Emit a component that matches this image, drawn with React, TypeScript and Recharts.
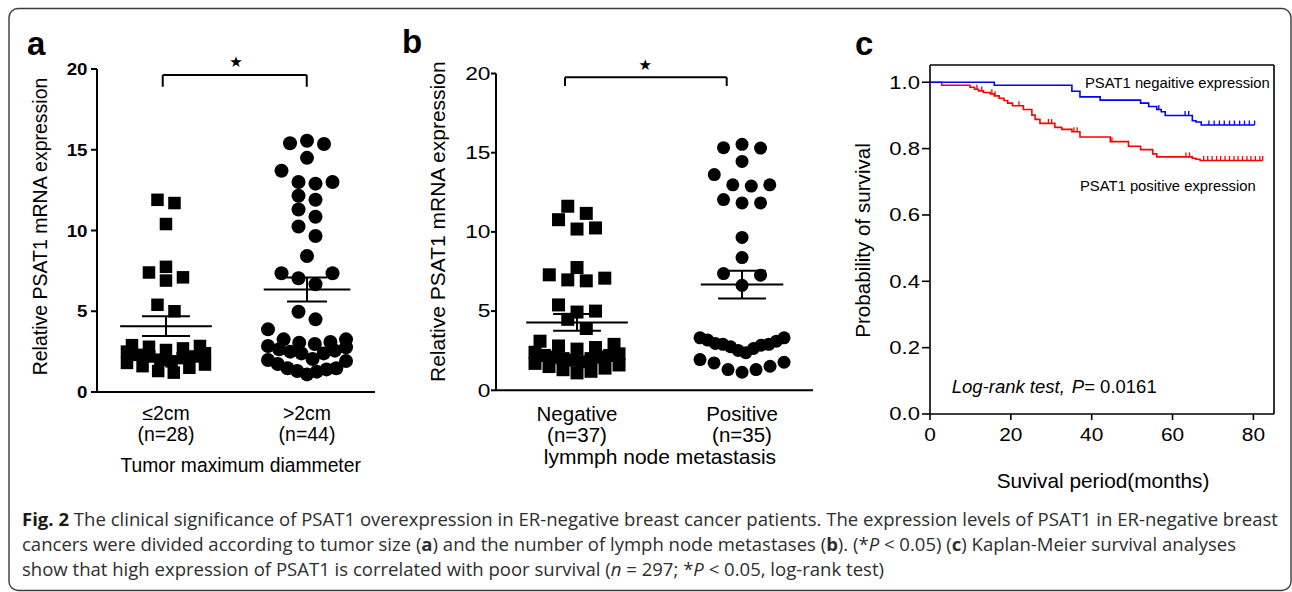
import React from 'react';
import { ScatterChart, Scatter, LineChart, Line, XAxis, YAxis, ReferenceLine } from 'recharts';

const FONT = '"Liberation Sans", Arial, Helvetica, sans-serif';
const CAPTION_FONT = '"Open Sans", "Noto Sans", sans-serif';

// panel a - expression by tumour size
const sizeGroups = ['≤2cm', '>2cm'];
const sizeCounts = ['(n=28)', '(n=44)'];
const sizeSmall = [11.9, 11.7, 10.4, 7.75, 7.4, 7.1, 6.9, 5.4, 5.0, 2.9, 2.85, 2.8, 2.7, 2.6, 2.5, 2.4, 2.3, 2.2, 2.2, 2.1, 2.0, 1.9, 1.8, 1.7, 1.6, 1.5, 1.3, 1.2];
const sizeLarge = [15.56, 15.4, 15.36, 14.5, 13.7, 13.0, 13.0, 12.9, 12.15, 11.9, 11.3, 10.85, 10.25, 9.66, 8.42, 7.35, 7.35, 7.04, 6.67, 4.97, 4.5, 3.88, 3.26, 3.26, 3.1, 3.05, 2.97, 2.85, 2.77, 2.64, 2.56, 2.5, 2.39, 2.39, 2.04, 1.98, 1.92, 1.73, 1.47, 1.47, 1.4, 1.3, 1.26, 1.09];

// panel b - expression by lymph node status
const nodeGroups = ['Negative', 'Positive'];
const nodeCounts = ['(n=37)', '(n=35)'];
const nodeNeg = [11.62, 11.17, 10.77, 10.25, 10.18, 7.75, 7.29, 7.08, 6.97, 6.91, 5.39, 5.0, 4.94, 4.48, 3.9, 3.1, 2.9, 2.8, 2.7, 2.6, 2.4, 2.3, 2.2, 2.2, 2.1, 2.1, 2.0, 2.0, 1.9, 1.8, 1.7, 1.6, 1.5, 1.4, 1.3, 1.2, 1.1];
const nodePos = [15.53, 15.32, 15.29, 14.45, 13.62, 12.97, 12.97, 12.89, 12.04, 11.83, 11.83, 9.65, 8.38, 7.37, 7.27, 6.63, 3.31, 3.31, 3.17, 3.1, 2.96, 2.9, 2.9, 2.85, 2.75, 2.64, 2.52, 2.37, 1.94, 1.77, 1.73, 1.52, 1.31, 1.31, 1.14];

const exprTicks = [0, 5, 10, 15, 20];

// panel c - Kaplan-Meier
const negEventTimes = [0, 15.9, 35.1, 37.1, 42.1, 52.1, 54.1, 56.1, 57.2, 58.2, 64.9, 65.8, 67.1];
const negEventSurv = [1.0, 0.991, 0.973, 0.956, 0.946, 0.937, 0.927, 0.918, 0.911, 0.9, 0.884, 0.88, 0.871];
const negCensorTimes = [56.6, 63.1, 64.0, 69.0, 70.3, 71.6, 72.8, 74.1, 75.3, 76.6, 77.8, 79.0, 80.3];

const posEventTimes = [0, 2.9, 9.9, 11.0, 12.0, 13.2, 14.9, 15.9, 17.1, 18.3, 19.2, 20.4, 23.1, 25.2, 26.0, 27.2, 30.9, 32.6, 35.1, 37.1, 44.6, 49.1, 52.1, 55.1, 56.1, 64.9, 65.8, 66.8];
const posEventSurv = [1.0, 0.991, 0.985, 0.979, 0.974, 0.969, 0.965, 0.959, 0.952, 0.945, 0.937, 0.929, 0.918, 0.901, 0.888, 0.876, 0.864, 0.858, 0.851, 0.835, 0.821, 0.807, 0.797, 0.784, 0.775, 0.771, 0.768, 0.764];
const posCensorTimes = [11.6, 12.8, 15.3, 16.1, 22.0, 29.3, 30.1, 35.6, 36.4, 45.0, 63.3, 64.2, 67.7, 68.7, 69.8, 70.9, 71.9, 73.0, 74.1, 75.2, 76.2, 77.3, 78.4, 79.4, 80.5, 81.6, 82.3];

const survTicks = [0, 0.2, 0.4, 0.6, 0.8, 1.0];
const monthTicks = [0, 20, 40, 60, 80];

function stats(vals: number[]) {
  const n = vals.length;
  const mean = vals.reduce((a, b) => a + b, 0) / n;
  const sd = Math.sqrt(vals.reduce((a, b) => a + (b - mean) * (b - mean), 0) / (n - 1));
  return { mean, sem: sd / Math.sqrt(n) };
}

// Prism-like column scatter: group points into rows of similar value, spread each row
// around the column centre (lowest value in the middle), squeezing wide rows
function spread(vals: number[], pxPerUnit: number, rowH: number, full: number, maxSpan: number) {
  const idx = vals.map((_, i) => i).sort((a, b) => vals[a] - vals[b]);
  const out = new Array(vals.length).fill(0);
  let k = 0;
  while (k < idx.length) {
    const start = vals[idx[k]] * pxPerUnit;
    const row: number[] = [];
    while (k < idx.length && vals[idx[k]] * pxPerUnit < start + rowH) row.push(idx[k++]);
    const n = row.length;
    const sp = n > 1 ? Math.min(full, maxSpan / (n - 1)) : 0;
    const slots = row.map((_, j) => (j - (n - 1) / 2) * sp);
    slots.sort((a, b) => Math.abs(a) - Math.abs(b) || b - a);
    row.forEach((id, j) => {
      out[id] = slots[j];
    });
  }
  return out;
}

function survAt(times: number[], surv: number[], t: number) {
  let s = surv[0];
  times.forEach((tt, i) => {
    if (tt <= t) s = surv[i];
  });
  return s;
}

function kmPoints(times: number[], surv: number[], censors: number[]) {
  const pts = times.map((t, i) => ({ t, s: surv[i], censored: false }));
  censors.forEach((t) => pts.push({ t, s: survAt(times, surv, t), censored: true }));
  return pts.sort((a, b) => a.t - b.t);
}

const stretchTick = (size: number, sx: number, bold: boolean, dy: string, fmt: (v: number) => string) => (p: any) => (
  <text
    transform={`translate(${p.x},${p.y}) scale(${sx},1)`}
    dy={dy}
    textAnchor={p.textAnchor}
    fontSize={size}
    fontWeight={bold ? 'bold' : 'normal'}
    fontFamily={FONT}
    fill="#000"
  >
    {fmt(p.payload.value)}
  </text>
);

const catTick = (groups: string[], counts: string[], size: number, dy1: number, dy2: number) => (p: any) => {
  const i = Math.round(p.payload.value);
  return (
    <g>
      <text x={p.x} y={p.y + dy1} textAnchor="middle" fontSize={size} fontFamily={FONT} fill="#000">{groups[i]}</text>
      <text x={p.x} y={p.y + dy2} textAnchor="middle" fontSize={size} fontFamily={FONT} fill="#000">{counts[i]}</text>
    </g>
  );
};

type DotPanelProps = {
  left: number; width: number; height: number;
  plotTop: number; plotBottom: number; plotLeft: number; plotRight: number;
  xDomain: [number, number];
  groups: string[]; counts: string[];
  series: number[][];
  square: number; radius: number;
  rowH: number[]; full: number; maxSpan: number;
  meanHalf: number[]; capHalf: number[];
  bracket: { x1: number; x2: number; y: number; y2: number };
  tickSize: number; tickSx: number; tickBold: boolean; tickLen: number; tickMargin: number;
  catSize: number; catDy1: number; catDy2: number;
};

function DotPanel(props: DotPanelProps) {
  const { left, width, height, plotTop, plotBottom, plotLeft, plotRight, xDomain } = props;
  const pxPerUnit = (plotBottom - plotTop) / 20;
  const pxPerCat = (plotRight - plotLeft) / (xDomain[1] - xDomain[0]);
  const pts = props.series.map((vals, g) =>
    spread(vals, pxPerUnit, props.rowH[g], props.full, props.maxSpan).map((off, i) => ({ x: g + off / pxPerCat, y: vals[i] }))
  );
  const s = props.square;
  const r = props.radius;
  const line = { stroke: '#000', strokeWidth: 2, ifOverflow: 'visible' as const };
  const bars: React.ReactElement[] = [];
  props.series.forEach((vals, g) => {
    const { mean, sem } = stats(vals);
    const h = props.meanHalf[g];
    const c = props.capHalf[g];
    bars.push(<ReferenceLine key={`m${g}`} segment={[{ x: g - h, y: mean }, { x: g + h, y: mean }]} {...line} />);
    bars.push(<ReferenceLine key={`v${g}`} segment={[{ x: g, y: mean - sem }, { x: g, y: mean + sem }]} {...line} />);
    bars.push(<ReferenceLine key={`t${g}`} segment={[{ x: g - c, y: mean + sem }, { x: g + c, y: mean + sem }]} {...line} />);
    bars.push(<ReferenceLine key={`b${g}`} segment={[{ x: g - c, y: mean - sem }, { x: g + c, y: mean - sem }]} {...line} />);
  });
  const b = props.bracket;
  return (
    <div style={{ position: 'absolute', left, top: 0 }}>
      <ScatterChart width={width} height={height} margin={{ top: plotTop, right: left + width - plotRight, bottom: 0, left: 0 }}>
        <XAxis
          type="number"
          dataKey="x"
          domain={xDomain}
          ticks={[0, 1]}
          interval={0}
          height={height - plotBottom}
          axisLine={{ stroke: '#000', strokeWidth: 2 }}
          tickLine={false}
          tickSize={0}
          tickMargin={0}
          tick={catTick(props.groups, props.counts, props.catSize, props.catDy1, props.catDy2)}
        />
        <YAxis
          type="number"
          dataKey="y"
          domain={[0, 20]}
          ticks={exprTicks}
          interval={0}
          width={plotLeft - left}
          axisLine={{ stroke: '#000', strokeWidth: 2 }}
          tickLine={{ stroke: '#000', strokeWidth: 2 }}
          tickSize={props.tickLen}
          tickMargin={props.tickMargin}
          tick={stretchTick(props.tickSize, props.tickSx, props.tickBold, '0.36em', (v) => String(v))}
        />
        <Scatter
          data={pts[0]}
          isAnimationActive={false}
          shape={(p: any) => <rect x={p.cx - s / 2} y={p.cy - s / 2} width={s} height={s} fill="#000" />}
        />
        <Scatter
          data={pts[1]}
          isAnimationActive={false}
          shape={(p: any) => <circle cx={p.cx} cy={p.cy} r={r} fill="#000" />}
        />
        {bars}
        <ReferenceLine segment={[{ x: b.x1, y: b.y }, { x: b.x2, y: b.y }]} {...line} />
        <ReferenceLine segment={[{ x: b.x1, y: b.y }, { x: b.x1, y: b.y2 }]} {...line} />
        <ReferenceLine segment={[{ x: b.x2, y: b.y }, { x: b.x2, y: b.y2 }]} {...line} />
      </ScatterChart>
    </div>
  );
}

const negKM = kmPoints(negEventTimes, negEventSurv, negCensorTimes);
const posKM = kmPoints(posEventTimes, posEventSurv, posCensorTimes);

const censorDot = (color: string) => (p: any) =>
  p.payload.censored ? (
    <path key={`c${p.index}`} d={`M${p.cx},${p.cy}V${p.cy - 4.5}`} stroke={color} strokeWidth={1.3} />
  ) : (
    <g key={`c${p.index}`} />
  );

function SurvivalPanel() {
  const yMax = 1.052;
  const xMax = 85.1;
  return (
    <div style={{ position: 'absolute', left: 840, top: 0 }}>
      <LineChart width={452} height={500} margin={{ top: 65, right: 18, bottom: 0, left: 0 }}>
        <XAxis
          type="number"
          dataKey="t"
          domain={[0, xMax]}
          ticks={monthTicks}
          interval={0}
          height={86}
          axisLine={{ stroke: '#000', strokeWidth: 1.6 }}
          tickLine={{ stroke: '#000', strokeWidth: 1.6 }}
          tickSize={6}
          tickMargin={8}
          tick={stretchTick(18.5, 1.13, false, '0.71em', (v) => String(v))}
        />
        <YAxis
          type="number"
          dataKey="s"
          domain={[0, yMax]}
          ticks={survTicks}
          interval={0}
          width={90}
          axisLine={{ stroke: '#000', strokeWidth: 1.6 }}
          tickLine={{ stroke: '#000', strokeWidth: 1.6 }}
          tickSize={8}
          tickMargin={2}
          tick={stretchTick(17.5, 1.26, false, '0.36em', (v) => v.toFixed(1))}
        />
        <ReferenceLine y={yMax} stroke="#000" strokeWidth={1.6} ifOverflow="visible" />
        <ReferenceLine x={xMax} stroke="#000" strokeWidth={1.6} ifOverflow="visible" />
        <Line
          data={posKM}
          dataKey="s"
          type="stepAfter"
          stroke="#ff0000"
          strokeWidth={1.6}
          dot={censorDot('#ff0000')}
          activeDot={false}
          isAnimationActive={false}
        />
        <Line
          data={negKM}
          dataKey="s"
          type="stepAfter"
          stroke="#0000ff"
          strokeWidth={1.6}
          dot={censorDot('#0000ff')}
          activeDot={false}
          isAnimationActive={false}
        />
      </LineChart>
    </div>
  );
}

function Overlay() {
  const t = { fontFamily: FONT, fill: '#000' };
  const cap = { fontFamily: CAPTION_FONT, fill: '#2e2e2e', fontSize: 18 };
  return (
    <svg width={1292} height={592} style={{ position: 'absolute', left: 0, top: 0, pointerEvents: 'none' }}>
      <rect x={9} y={8.5} width={1282} height={582} rx={9} fill="none" stroke="#3a3a3a" strokeWidth={1.4} />

      {/* panel letters */}
      <text x={27} y={54.5} fontSize={33} fontWeight="bold" {...t}>a</text>
      <text x={402} y={53} fontSize={33} fontWeight="bold" {...t}>b</text>
      <text x={855} y={55} fontSize={33} fontWeight="bold" {...t}>c</text>

      {/* significance stars */}
      <text x={236} y={67} fontSize={15} textAnchor="middle" fontFamily="DejaVu Sans" fill="#000">★</text>
      <text x={645.3} y={70} fontSize={15} textAnchor="middle" fontFamily="DejaVu Sans" fill="#000">★</text>

      {/* axis titles */}
      <text transform="translate(47.3,226.5) rotate(-90)" textAnchor="middle" fontSize={19.5} {...t}>Relative PSAT1 mRNA expression</text>
      <text x={240.7} y={471.7} textAnchor="middle" fontSize={19.3} {...t}>Tumor maximum diammeter</text>
      <text transform="translate(445,221.7) rotate(-90)" textAnchor="middle" fontSize={21} {...t}>Relative PSAT1 mRNA expression</text>
      <text x={660} y={463.5} textAnchor="middle" fontSize={21} {...t}>lymmph node metastasis</text>
      <text transform="translate(870,240.5) rotate(-90)" textAnchor="middle" fontSize={20.6} {...t}>Probability of survival</text>
      <text x={1103} y={488.3} textAnchor="middle" fontSize={20.8} {...t}>Suvival period(months)</text>

      {/* survival annotations */}
      <text x={1085} y={87.7} fontSize={14.8} {...t}>PSAT1 negaitive expression</text>
      <text x={1080} y={190.7} fontSize={14.8} {...t}>PSAT1 positive expression</text>
      <text x={951.7} y={393.3} fontSize={18.5} {...t}>
        <tspan fontStyle="italic">Log-rank test,</tspan>
        <tspan fontStyle="italic" dx={7}>P</tspan>
        <tspan>= 0.0161</tspan>
      </text>

      {/* caption */}
      <text x={22} y={526} textLength={1256} lengthAdjust="spacingAndGlyphs" {...cap}>
        <tspan fontWeight="bold" fill="#1a1a1a">Fig. 2</tspan>
        {' The clinical significance of PSAT1 overexpression in ER-negative breast cancer patients. The expression levels of PSAT1 in ER-negative breast'}
      </text>
      <text x={22} y={551} textLength={1214} lengthAdjust="spacingAndGlyphs" {...cap}>
        {'cancers were divided according to tumor size ('}
        <tspan fontWeight="bold">a</tspan>
        {') and the number of lymph node metastases ('}
        <tspan fontWeight="bold">b</tspan>
        {'). (*'}
        <tspan fontStyle="italic">P</tspan>
        {' < 0.05) ('}
        <tspan fontWeight="bold">c</tspan>
        {') Kaplan-Meier survival analyses'}
      </text>
      <text x={22} y={576} textLength={862} lengthAdjust="spacingAndGlyphs" {...cap}>
        {'show that high expression of PSAT1 is correlated with poor survival ('}
        <tspan fontStyle="italic">n</tspan>
        {' = 297; *'}
        <tspan fontStyle="italic">P</tspan>
        {' < 0.05, log-rank test)'}
      </text>
    </svg>
  );
}

export default function App() {
  return (
    <div style={{ position: 'fixed', left: 0, top: 0, width: 1292, height: 592, overflow: 'hidden', background: '#fff', fontFamily: FONT }}>
      <DotPanel
        left={0}
        width={400}
        height={480}
        plotTop={69}
        plotBottom={392}
        plotLeft={97}
        plotRight={375}
        xDomain={[-0.489, 1.482]}
        groups={sizeGroups}
        counts={sizeCounts}
        series={[sizeSmall, sizeLarge]}
        square={12.5}
        radius={7}
        rowH={[11, 15]}
        full={17}
        maxSpan={78}
        meanHalf={[0.325, 0.307]}
        capHalf={[0.17, 0.142]}
        bracket={{ x1: -0.023, x2: 0.998, y: 19.63, y2: 18.9 }}
        tickSize={17}
        tickSx={1.1}
        tickBold={true}
        tickLen={6}
        tickMargin={3.5}
        catSize={19.5}
        catDy1={28}
        catDy2={49}
      />
      <DotPanel
        left={400}
        width={430}
        height={480}
        plotTop={73.5}
        plotBottom={390.3}
        plotLeft={496}
        plotRight={813}
        xDomain={[-0.491, 1.43]}
        groups={nodeGroups}
        counts={nodeCounts}
        series={[nodeNeg, nodePos]}
        square={13}
        radius={6.5}
        rowH={[11, 15]}
        full={18.5}
        maxSpan={84}
        meanHalf={[0.308, 0.25]}
        capHalf={[0.145, 0.145]}
        bracket={{ x1: -0.073, x2: 0.907, y: 19.76, y2: 19.21 }}
        tickSize={17.5}
        tickSx={1.3}
        tickBold={false}
        tickLen={5}
        tickMargin={0.5}
        catSize={20.5}
        catDy1={30.5}
        catDy2={51.5}
      />
      <SurvivalPanel />
      <Overlay />
    </div>
  );
}
